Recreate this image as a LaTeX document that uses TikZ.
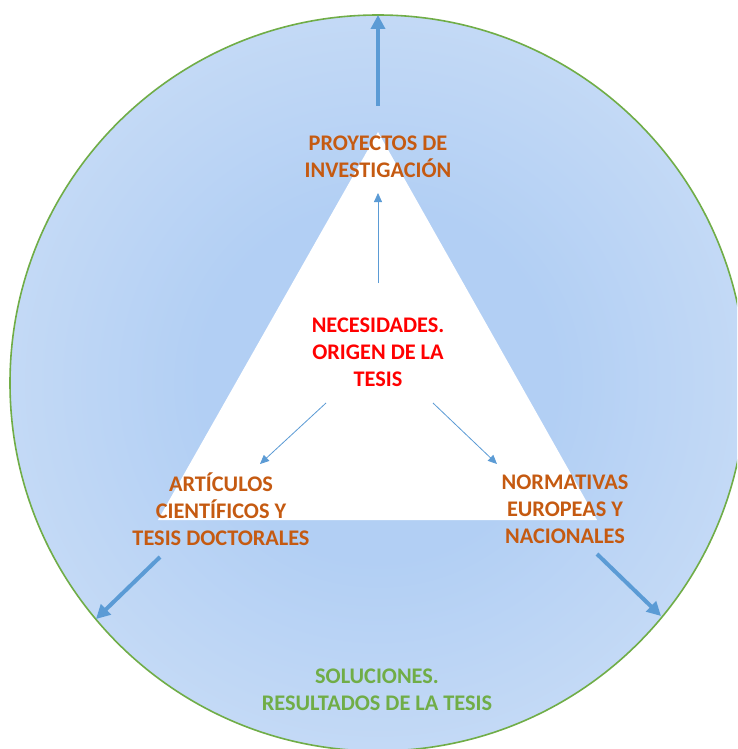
\documentclass[tikz,border=0pt]{standalone}
\usepackage{fontspec}
\setmainfont{Carlito}
\usetikzlibrary{arrows.meta}
\definecolor{bgin}{RGB}{178,207,244}
\definecolor{bgout}{RGB}{210,226,247}
\definecolor{ringgreen}{RGB}{112,173,71}
\definecolor{arrowblue}{RGB}{91,155,213}
\definecolor{orangetxt}{RGB}{197,90,17}
\definecolor{redtxt}{RGB}{255,0,0}
\pgfdeclareradialshading{bgshade}{\pgfpoint{0bp}{0bp}}{color(0bp)=(bgin); color(12bp)=(bgin); color(36bp)=(bgout); color(50bp)=(bgout)}
\begin{document}
\begin{tikzpicture}[x=1pt,y=-1pt,
  lbl/.style={font=\fontsize{22.3}{27}\selectfont\bfseries, align=center, inner sep=0pt},
  bigarrow/.style={draw=arrowblue, line width=4pt, -{Triangle[length=14pt,width=14pt]}},
  smallarrow/.style={draw=arrowblue, line width=0.8pt, -{Triangle[length=9pt,width=8pt]}}]
\useasboundingbox (0,0) rectangle (737,749);
\clip (0,0) rectangle (737,749);
\fill[white] (0,0) rectangle (737,749);
% circle
\shade[shading=bgshade] (378,383) circle[radius=368];
\draw[ringgreen, line width=1.6pt] (378,383) circle[radius=368];
% triangle
\fill[white] (378,132) -- (597,520) -- (158,520) -- cycle;
% labels
\node[lbl, text=orangetxt] (proy) at (378,157) {PROYECTOS DE\\INVESTIGACIÓN};
\node[lbl, text=redtxt] (nec) at (378,352) {NECESIDADES.\\ORIGEN DE LA\\TESIS};
\node[lbl, text=orangetxt] (art) at (221,509) {ARTÍCULOS\\CIENTÍFICOS Y\\TESIS DOCTORALES};
\node[lbl, text=orangetxt] (norm) at (565,509) {NORMATIVAS\\EUROPEAS Y\\NACIONALES};
\node[lbl, text=ringgreen] (sol) at (377,690) {SOLUCIONES.\\RESULTADOS DE LA TESIS};
% inner thin arrows
\coordinate (n1) at (378,283);
\coordinate (n1e) at (378,193);
\coordinate (n2) at (326,403);
\coordinate (n2e) at (260,464);
\coordinate (n3) at (433,403);
\coordinate (n3e) at (497,464);
\draw[smallarrow] (n1) -- (n1e);
\draw[smallarrow] (n2) -- (n2e);
\draw[smallarrow] (n3) -- (n3e);
% outer thick arrows
\coordinate (o1) at (378,106);
\coordinate (o1e) at (378,15);
\coordinate (o2) at (160,557);
\coordinate (o2e) at (96,619);
\coordinate (o3) at (597,554);
\coordinate (o3e) at (661,616);
\draw[bigarrow] (o1) -- (o1e);
\draw[bigarrow] (o2) -- (o2e);
\draw[bigarrow] (o3) -- (o3e);
\end{tikzpicture}
\end{document}
